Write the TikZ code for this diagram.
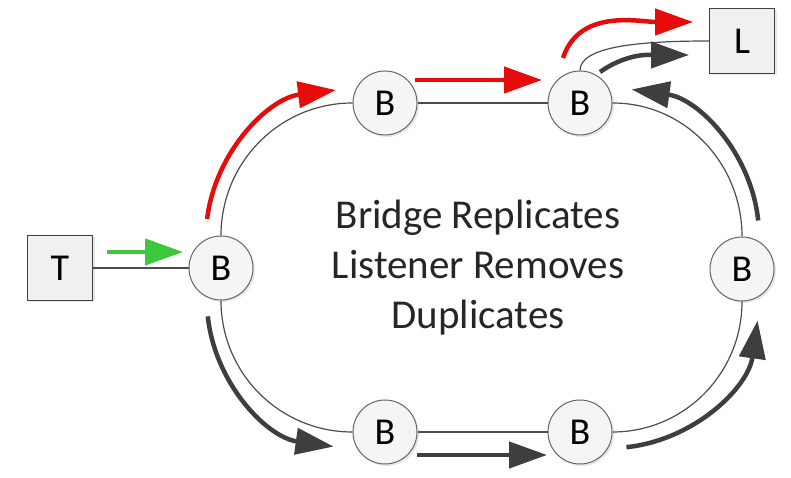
\documentclass[tikz,border=0pt]{standalone}
\usepackage{fontspec}
\setmainfont{Carlito}
\usetikzlibrary{arrows.meta,shadows,calc}
\definecolor{flowred}{RGB}{230,12,12}
\definecolor{flowgreen}{RGB}{60,200,60}
\definecolor{flowdark}{RGB}{62,62,62}
\begin{document}
\begin{tikzpicture}[x=1pt,y=1pt,
  bnode/.style={circle,draw=black!60,line width=1pt,fill=black!4,minimum size=64pt,inner sep=0pt,
    font=\fontsize{38}{40}\selectfont,drop shadow={shadow xshift=2pt,shadow yshift=-2pt,opacity=0.18}},
  boxnode/.style={rectangle,draw=black!75,line width=1.2pt,fill=black!6,minimum size=65pt,inner sep=0pt,
    font=\fontsize{38}{40}\selectfont,drop shadow={shadow xshift=2pt,shadow yshift=-2pt,opacity=0.18}},
  ring/.style={draw=black!70,line width=1.2pt},
  flow/.style={line width=4.5pt,-{Triangle[length=38pt,width=26pt]}},
  label/.style={align=center,font=\fontsize{41}{50}\selectfont,text=black!85}]
\useasboundingbox (0,0) rectangle (791,478);

% nodes
\node[boxnode] (T) at (60,210) {T};
\node[boxnode] (L) at (742,437) {L};
\node[bnode] (lB) at (221,210) {B};
\node[bnode] (tB1) at (385,375) {B};
\node[bnode] (tB2) at (580,375) {B};
\node[bnode] (rB) at (742,209) {B};
\node[bnode] (bB1) at (385,46) {B};
\node[bnode] (bB2) at (580,46) {B};
\node[label] (txt) at (478,210) {Bridge Replicates\\Listener Removes\\Duplicates};

% ring connectors
\draw[ring] (T) -- (lB);
\draw[ring] (lB.north) to[out=90,in=180] (tB1.west);
\draw[ring] (tB1) -- (tB2);
\draw[ring] (tB2.east) to[out=0,in=90] (rB.north);
\draw[ring] (rB.south) to[out=270,in=0] (bB2.east);
\draw[ring] (bB2) -- (bB1);
\draw[ring] (bB1.west) to[out=180,in=270] (lB.south);
\draw[ring] (tB2.north) .. controls +(0,24) and +(-70,0) .. (L.west);

% flow arrows
\coordinate (cUL) at (354,241);
\coordinate (cLL) at (354,177);
\coordinate (cUR) at (611,242);
\coordinate (cLR) at (611,178);
\coordinate (g1) at (107,226);
\coordinate (g2) at (183,226);
\coordinate (r1) at (415,398);
\coordinate (r2) at (542,398);
\coordinate (d1) at (417,23);
\coordinate (d2) at (547,23);
\coordinate (rl1) at (563,420);
\coordinate (rl2) at (693,456);
\coordinate (dl1) at (600,406);
\coordinate (dl2) at (689,423);

\draw[flow,flowgreen] (g1) -- (g2);
\draw[flow,flowred] ($(cUL)+(173:148)$) arc[start angle=173,end angle=97,radius=148];
\draw[flow,flowred] (r1) -- (r2);
\draw[flow,flowred] (rl1) to[out=72,in=180] (rl2);
\draw[flow,flowdark] (dl1) to[out=35,in=180] (dl2);
\draw[flow,flowdark] ($(cUR)+(6:148)$) arc[start angle=6,end angle=82,radius=148];
\draw[flow,flowdark] ($(cLR)+(276:148)$) arc[start angle=276,end angle=352,radius=148];
\draw[flow,flowdark] ($(cLL)+(186:147)$) arc[start angle=186,end angle=262,radius=147];
\draw[flow,flowdark] (d1) -- (d2);
\end{tikzpicture}
\end{document}
